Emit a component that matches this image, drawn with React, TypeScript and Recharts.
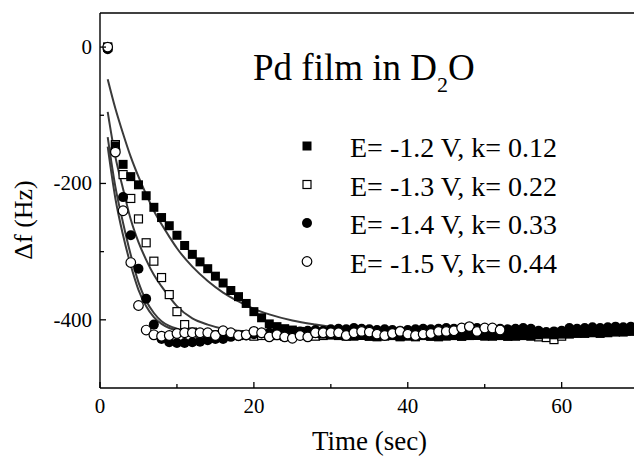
import { ComposedChart, Line, ReferenceLine, Scatter, XAxis, YAxis } from "recharts";

const serif = '"Liberation Serif", "Times New Roman", serif';

// time grid of the measurements (s)
const seconds = [
  1, 2, 3, 4, 5, 6, 7, 8, 9, 10, 11, 12, 13, 14, 15, 16, 17, 18, 19, 20, 21, 22, 23,
  24, 25, 26, 27, 28, 29, 30, 31, 32, 33, 34, 35, 36, 37, 38, 39, 40, 41, 42, 43, 44,
  45, 46, 47, 48, 49, 50, 51, 52, 53, 54, 55, 56, 57, 58, 59, 60, 61, 62, 63, 64, 65,
  66, 67, 68, 69
];

// E = -1.2 V (filled squares)
const dfE12 = [
  0, -145, -172, -190, -202, -218, -235, -250, -262, -276, -291, -304, -315, -325, -336,
  -346, -357, -366, -376, -388, -397, -406, -410, -413, -415, -417, -419, -420, -421,
  -422, -423, -422, -424, -423, -424, -425, -424, -423, -425, -424, -425, -423, -424,
  -425, -424, -423, -424, -422, -423, -424, -423, -422, -424, -423, -422, -423, -422,
  -421, -422, -421, -421, -420, -420, -419, -420, -419, -418, -418, -417
];

// E = -1.3 V (open squares)
const dfE13 = [
  0, -143, -187, -222, -252, -287, -314, -338, -363, -388, -407, -418, -421, -422, -422,
  -421, -422, -423, -422, -424, -423, -422, -423, -424, -423, -422, -423, -424, -423,
  -422, -423, -424, -423, -422, -424, -423, -422, -423, -424, -423, -422, -423, -424,
  -423, -422, -423, -424, -423, -422, -423, -424, -423, -424, -424, -423, -424, -425,
  -426, -429, -424
];

// E = -1.4 V (filled circles)
const dfE14 = [
  -3, -150, -220, -276, -325, -369, -407, -428, -433, -434, -434, -433, -432, -430, -428,
  -428, -425, -424, -423, -421, -420, -419, -418, -419, -418, -417, -416, -415, -416,
  -414, -413, -414, -412, -413, -414, -415, -414, -415, -416, -415, -414, -413, -414,
  -413, -412, -413, -412, -411, -412, -413, -414, -413, -414, -413, -412, -413, -416,
  -418, -417, -416, -412, -413, -412, -411, -412, -411, -410, -411, -410
];

// E = -1.5 V (open circles)
const dfE15 = [
  0, -154, -240, -316, -379, -415, -422, -424, -423, -420, -419, -419, -419, -419, -423,
  -416, -419, -423, -422, -417, -419, -425, -422, -425, -427, -423, -425, -419, -419,
  -419, -419, -423, -419, -417, -418, -421, -423, -420, -417, -421, -423, -421, -420,
  -417, -417, -416, -412, -410, -417, -412, -412, -415
];

// first-order fits
const fitTimes = [1, 2, 3, 4, 5, 6, 7, 8, 9, 10, 12, 14, 16, 18, 20, 22, 25, 28, 32, 36, 40, 45, 50, 55, 60, 65, 69];
const fitE12 = [
  -47, -90, -127, -161, -190, -216, -240, -260, -278, -295, -322, -343, -360, -373, -384,
  -392, -401, -407, -413, -416, -419, -420, -421, -422, -422, -422, -422
];
const fitE13 = [
  -95, -161, -208, -253, -286, -312, -334, -351, -366, -380, -398, -407, -413, -416, -418,
  -419, -420, -420, -420, -420, -420, -420, -420, -420, -420, -420, -420
];
const fitE14 = [
  -132, -205, -258, -305, -345, -372, -390, -402, -409, -413, -417, -419, -420, -420, -420,
  -420, -420, -420, -420, -420, -420, -420, -420, -420, -420, -420, -420
];
const fitE15 = [
  -146, -222, -276, -320, -356, -380, -396, -406, -412, -415, -418, -420, -420, -420, -420,
  -420, -420, -420, -420, -420, -420, -420, -420, -420, -420, -420, -420
];

const xTicks = [0, 10, 20, 30, 40, 50, 60];
const xLabelled = [0, 20, 40, 60];
const yTicks = [-400, -300, -200, -100, 0];
const yLabelled = [-400, -200, 0];

const legendRows = [
  "E= -1.2 V, k= 0.12",
  "E= -1.3 V, k= 0.22",
  "E= -1.4 V, k= 0.33",
  "E= -1.5 V, k= 0.44"
];

function pairs(ts: number[], vs: number[]) {
  return vs.map((v, i) => ({ t: ts[i], v }));
}

const e12Points = pairs(seconds, dfE12);
const e13Points = pairs(seconds, dfE13);
const e14Points = pairs(seconds, dfE14);
const e15Points = pairs(seconds, dfE15);

function FilledSquare({ cx, cy }: any) {
  return <rect x={cx - 4.5} y={cy - 4.5} width={9} height={9} fill="#000" />;
}
function OpenSquare({ cx, cy }: any) {
  return <rect x={cx - 4} y={cy - 4} width={8} height={8} fill="#fff" stroke="#000" strokeWidth={1.2} />;
}
function FilledCircle({ cx, cy }: any) {
  return <circle cx={cx} cy={cy} r={5} fill="#000" />;
}
function OpenCircle({ cx, cy }: any) {
  return <circle cx={cx} cy={cy} r={4.8} fill="#fff" stroke="#000" strokeWidth={1.2} />;
}

function XTick({ x, y, payload }: any) {
  const major = xLabelled.includes(payload.value);
  return (
    <g>
      <line x1={x} x2={x} y1={y} y2={y - (major ? 6 : 4)} stroke="#000" strokeWidth={1.3} />
      {major && (
        <text x={x} y={y + 25} textAnchor="middle" fontFamily={serif} fontSize={21} fill="#000">
          {payload.value}
        </text>
      )}
    </g>
  );
}

function YTick({ x, y, payload }: any) {
  const major = yLabelled.includes(payload.value);
  return (
    <g>
      <line x1={x} x2={x + (major ? 6 : 4)} y1={y} y2={y} stroke="#000" strokeWidth={1.3} />
      {major && (
        <text x={x - 8} y={y + 7} textAnchor="end" fontFamily={serif} fontSize={21} fill="#000">
          {payload.value}
        </text>
      )}
    </g>
  );
}

const fitStroke = "#3a3a3a";

export default function App() {
  return (
    <div style={{ position: "absolute", left: 0, top: 0, width: 634, height: 460, background: "#fff" }}>
      <ComposedChart width={634} height={460} margin={{ top: 13, right: 0, bottom: 0, left: 0 }}>
        <XAxis
          type="number"
          dataKey="t"
          domain={[0, 69.4]}
          ticks={xTicks}
          interval={0}
          allowDataOverflow
          height={72}
          tickSize={0}
          tickMargin={0}
          tick={<XTick />}
          axisLine={{ stroke: "#000", strokeWidth: 1.4 }}
        />
        <YAxis
          type="number"
          dataKey="v"
          domain={[-500, 50]}
          ticks={yTicks}
          interval={0}
          allowDataOverflow
          width={100}
          tickSize={0}
          tickMargin={0}
          tick={<YTick />}
          axisLine={{ stroke: "#000", strokeWidth: 1.4 }}
        />
        <ReferenceLine y={50} stroke="#000" strokeWidth={1.4} />
        <Line data={pairs(fitTimes, fitE12)} dataKey="v" type="monotone" stroke={fitStroke} strokeWidth={2} dot={false} isAnimationActive={false} />
        <Line data={pairs(fitTimes, fitE13)} dataKey="v" type="monotone" stroke={fitStroke} strokeWidth={2} dot={false} isAnimationActive={false} />
        <Line data={pairs(fitTimes, fitE14)} dataKey="v" type="monotone" stroke={fitStroke} strokeWidth={2} dot={false} isAnimationActive={false} />
        <Line data={pairs(fitTimes, fitE15)} dataKey="v" type="monotone" stroke={fitStroke} strokeWidth={2} dot={false} isAnimationActive={false} />
        <Scatter data={e13Points} dataKey="v" shape={OpenSquare} isAnimationActive={false} />
        <Scatter data={e12Points} dataKey="v" shape={FilledSquare} isAnimationActive={false} />
        <Scatter data={e14Points} dataKey="v" shape={FilledCircle} isAnimationActive={false} />
        <Scatter data={e15Points} dataKey="v" shape={OpenCircle} isAnimationActive={false} />
      </ComposedChart>
      <svg
        width={634}
        height={460}
        style={{ position: "absolute", left: 0, top: 0, pointerEvents: "none" }}
        fontFamily={serif}
      >
        <text x={253} y={80} fontSize={37} fill="#000">
          Pd film in D<tspan fontSize={22} dy={12}>2</tspan>
          <tspan dy={-12}>O</tspan>
        </text>
        {legendRows.map((label, i) => {
          const base = 157 + i * 38.5;
          const my = base - 11;
          return (
            <g key={label}>
              {i === 0 && <rect x={302.5} y={my - 4.5} width={9} height={9} fill="#000" />}
              {i === 1 && <rect x={303} y={my - 4} width={8} height={8} fill="#fff" stroke="#000" strokeWidth={1.2} />}
              {i === 2 && <circle cx={307} cy={my} r={5} fill="#000" />}
              {i === 3 && <circle cx={307} cy={my} r={4.8} fill="#fff" stroke="#000" strokeWidth={1.2} />}
              <text x={350} y={base} fontSize={28} fill="#000">
                {label}
              </text>
            </g>
          );
        })}
        <text transform="translate(31.5,220) rotate(-90)" textAnchor="middle" fontSize={26} fill="#000">
          Δf (Hz)
        </text>
        <text x={369.5} y={450} textAnchor="middle" fontSize={27} fill="#000">
          Time (sec)
        </text>
      </svg>
    </div>
  );
}
